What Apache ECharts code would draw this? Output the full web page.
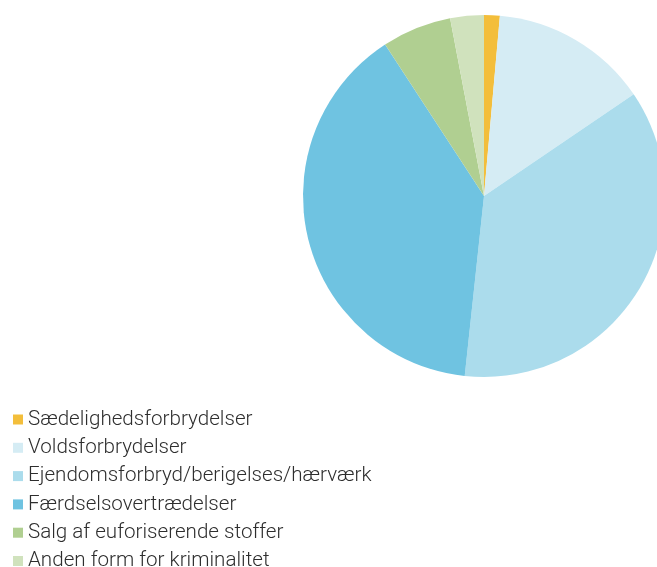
<!DOCTYPE html>
<html><head><meta charset="utf-8">
<script src="https://cdn.jsdelivr.net/npm/echarts@6/dist/echarts.min.js"></script>
<style>html,body{margin:0;padding:0;background:#fff}#c{width:657px;height:567px}</style>
</head><body><div id="c"></div>
<script>
const categories = ["Sædelighedsforbrydelser","Voldsforbrydelser","Ejendomsforbryd/berigelses/hærværk","Færdselsovertrædelser","Salg af euforiserende stoffer","Anden form for kriminalitet"];
const values = [1.4, 14.1, 36.2, 39.1, 6.2, 3.0];
const colors = ["#F3BE3B","#D5ECF4","#ABDCEC","#6FC3E1","#B0CF91","#D0E2BD"];
const chart = echarts.init(document.getElementById('c'), null, {renderer:'canvas'});
chart.setOption({
  animation:false,
  color: colors,
  legend:{
    orient:'vertical', left:8, top:404, height:200,
    itemWidth:10, itemHeight:10, itemGap:7.3,
    icon:'rect',
    textStyle:{fontFamily:'Roboto', fontSize:20.6, fontWeight:300, color:'#2e2e2e'},
    data: categories
  },
  series:[{
    type:'pie', center:[484,196], radius:181, startAngle:90, clockwise:true,
    label:{show:false}, labelLine:{show:false},
    emphasis:{disabled:true},
    data: categories.map((n,i)=>({name:n, value:values[i]}))
  }]
});
</script></body></html>
